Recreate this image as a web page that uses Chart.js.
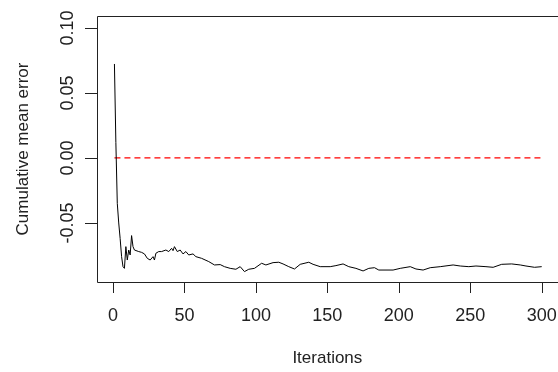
<!DOCTYPE html>
<html>
<head>
<meta charset="utf-8">
<script src="https://cdn.jsdelivr.net/npm/chart.js@4"></script>
<style>
  html, body { margin: 0; padding: 0; background: #fff; }
  #wrap { width: 558px; height: 372px; }
</style>
</head>
<body>
<div id="wrap"><canvas id="chart"></canvas></div>
<script>
// values
const iterations = [1, 2, 3, 4, 5, 6, 7, 8, 9, 10, 11, 12, 13, 14, 15, 18, 20, 22, 24, 26,
  28, 29, 30, 32, 34, 37, 39, 41, 42, 43, 45, 47, 49, 51, 53, 56, 58, 62, 67, 71,
  75, 78, 82, 86, 89, 92, 95, 99, 104, 107, 112, 116, 119, 123, 127, 131, 137, 140, 145, 152,
  156, 161, 165, 170, 175, 179, 183, 186, 196, 201, 208, 212, 217, 222, 229, 238, 243, 249, 254, 261,
  266, 272, 279, 285, 289, 295, 300];
const meanError = [0.0723, 0.0118, -0.0349, -0.0500, -0.0620, -0.0759, -0.0836, -0.0849, -0.0682, -0.0785,
  -0.0708, -0.0746, -0.0597, -0.0682, -0.0708, -0.0720, -0.0726, -0.0738, -0.0772, -0.0785,
  -0.0759, -0.0785, -0.0733, -0.0720, -0.0720, -0.0708, -0.0720, -0.0695, -0.0713, -0.0682,
  -0.0720, -0.0708, -0.0738, -0.0720, -0.0746, -0.0738, -0.0759, -0.0772, -0.0797, -0.0823,
  -0.0820, -0.0836, -0.0849, -0.0856, -0.0836, -0.0874, -0.0856, -0.0849, -0.0810, -0.0823,
  -0.0805, -0.0802, -0.0815, -0.0836, -0.0854, -0.0818, -0.0802, -0.0818, -0.0836, -0.0836,
  -0.0828, -0.0815, -0.0836, -0.0849, -0.0869, -0.0849, -0.0844, -0.0862, -0.0862, -0.0849,
  -0.0836, -0.0854, -0.0862, -0.0844, -0.0836, -0.0823, -0.0831, -0.0836, -0.0831, -0.0836,
  -0.0841, -0.0818, -0.0815, -0.0823, -0.0831, -0.0841, -0.0836];
const refLineX = [1, 300];
const refLineY = [0, 0];
const xTicks = [0, 50, 100, 150, 200, 250, 300];
const yTicks = [-0.05, 0.00, 0.05, 0.10];
const yTickLabels = ['-0.05', '0.00', '0.05', '0.10'];
const xTitle = 'Iterations';
const yTitle = 'Cumulative mean error';

const font = '"Liberation Sans", Arial, sans-serif';
const inkColor = '#222';

// R-style box, ticks and rotated labels, placed through the chart's scales
const rAxes = {
  id: 'rAxes',
  afterDraw(chart) {
    const { ctx, chartArea: a, scales: { x, y } } = chart;
    ctx.save();
    ctx.strokeStyle = inkColor;
    ctx.lineWidth = 1;
    ctx.beginPath();
    ctx.moveTo(560, a.top + 0.5);
    ctx.lineTo(a.left + 0.5, a.top + 0.5);
    ctx.lineTo(a.left + 0.5, a.bottom + 0.5);
    ctx.lineTo(560, a.bottom + 0.5);
    xTicks.forEach((v) => {
      const px = Math.round(x.getPixelForValue(v)) + 0.5;
      ctx.moveTo(px, a.bottom);
      ctx.lineTo(px, a.bottom + 11);
    });
    yTicks.forEach((v) => {
      const py = Math.round(y.getPixelForValue(v)) + 0.5;
      ctx.moveTo(a.left, py);
      ctx.lineTo(a.left - 12, py);
    });
    ctx.stroke();

    ctx.fillStyle = inkColor;
    ctx.font = '18px ' + font;
    ctx.textAlign = 'center';
    ctx.textBaseline = 'middle';
    xTicks.forEach((v) => {
      ctx.fillText(String(v), x.getPixelForValue(v), 316);
    });
    yTicks.forEach((v, i) => {
      ctx.save();
      ctx.translate(68, y.getPixelForValue(v));
      ctx.rotate(-Math.PI / 2);
      ctx.fillText(yTickLabels[i], 0, 0);
      ctx.restore();
    });

    ctx.font = '17px ' + font;
    ctx.fillText(xTitle, (x.getPixelForValue(0) + x.getPixelForValue(300)) / 2, 358);
    ctx.save();
    ctx.translate(23, (a.top + a.bottom) / 2);
    ctx.rotate(-Math.PI / 2);
    ctx.fillText(yTitle, 0, 0);
    ctx.restore();
    ctx.restore();
  },
};

new Chart(document.getElementById('chart'), {
  type: 'line',
  data: {
    datasets: [
      {
        label: 'Cumulative mean error',
        data: iterations.map((it, i) => ({ x: it, y: meanError[i] })),
        borderColor: '#000000',
        borderWidth: 1,
        pointRadius: 0,
        tension: 0,
      },
      {
        label: 'Zero',
        data: refLineX.map((it, i) => ({ x: it, y: refLineY[i] })),
        borderColor: '#ff0000',
        borderWidth: 1.3,
        borderDash: [6, 4],
        pointRadius: 0,
      },
    ],
  },
  options: {
    animation: false,
    responsive: true,
    maintainAspectRatio: false,
    layout: { padding: { left: 97, top: 16, right: 0, bottom: 90 } },
    plugins: {
      legend: { display: false },
      tooltip: { enabled: false },
    },
    scales: {
      x: { type: 'linear', display: false, min: -11.2, max: 311.4 },
      y: { display: false, min: -0.0954, max: 0.1092 },
    },
  },
  plugins: [rAxes],
});
</script>
</body>
</html>
